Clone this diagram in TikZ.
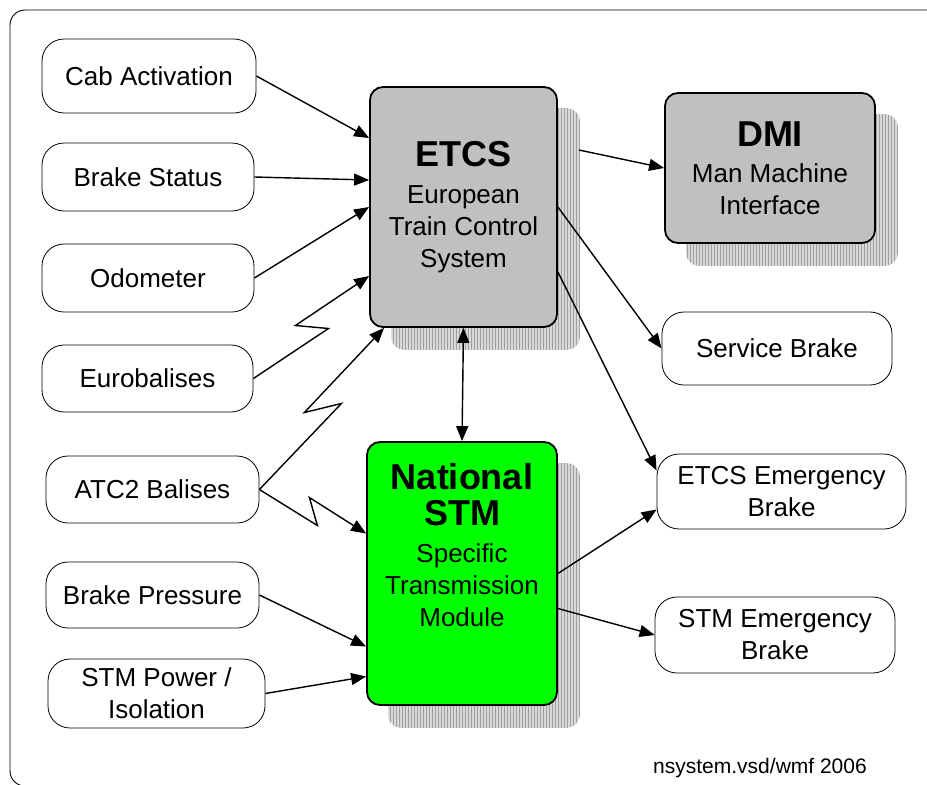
\documentclass[tikz,border=0pt]{standalone}
\usepackage{fontspec}
\setmainfont{Liberation Sans}
\usetikzlibrary{arrows.meta,patterns,backgrounds}

\definecolor{boxgray}{HTML}{C0C0C0}
\definecolor{stmgreen}{HTML}{00FF00}
\newcommand{\hdrfont}{\fontsize{36}{40}\selectfont\bfseries}

\begin{document}
\begin{tikzpicture}[x=1pt,y=-1pt,
    font=\fontsize{26}{32}\selectfont,
    inbox/.style={draw, line width=0.8pt, rounded corners=22pt, align=center, inner sep=0pt},
    unitbox/.style={draw, line width=1.8pt, rounded corners=13pt, align=center, inner sep=0pt, fill=boxgray},
    boxshadow/.style={rounded corners=13pt, preaction={fill=gray!30}, pattern=vertical lines, pattern color=gray!75},
    arr/.style={line width=1.4pt, -{Triangle[length=15pt,width=12pt]}},
    twoarr/.style={line width=1.4pt, {Triangle[length=15pt,width=12pt]}-{Triangle[length=15pt,width=12pt]}}]
    \useasboundingbox (0,0) rectangle (927,785);
    \begin{scope}
      \clip (0,0) rectangle (927,785);
      \draw[line width=0.9pt, rounded corners=15pt] (10,10) rectangle (960,786);
    \end{scope}

    % inputs
    \node[inbox, minimum width=214pt, minimum height=74pt] (cab) at (149,76) {Cab Activation};
    \node[inbox, minimum width=212pt, minimum height=68pt] (bstat) at (148,177) {Brake Status};
    \node[inbox, minimum width=212pt, minimum height=68pt] (odo) at (148,278) {Odometer};
    \node[inbox, minimum width=211pt, minimum height=67pt] (eurob) at (147.5,378.5) {Eurobalises};
    \node[inbox, minimum width=213pt, minimum height=67pt] (atc) at (152.5,489.5) {ATC2 Balises};
    \node[inbox, minimum width=213pt, minimum height=66pt] (bpress) at (152.5,595) {Brake Pressure};
    \node[inbox, minimum width=217pt, minimum height=69pt] (stmpow) at (156.5,693.5) {STM Power /\\Isolation};

    % units
    \node[unitbox, minimum width=187pt, minimum height=240pt] (etcs) at (463.5,207)
      {{\hdrfont ETCS}\\[5pt]European\\Train Control\\System};
    \node[unitbox, minimum width=210pt, minimum height=150pt] (dmi) at (770,168)
      {{\hdrfont DMI}\\[4pt]Man Machine\\Interface};
    \node[unitbox, fill=stmgreen, minimum width=190pt, minimum height=263pt] (stm) at (462,573.5) {};
    \node[align=center, inner sep=0pt] (stm-text) at (462,545)
      {{\hdrfont National}\\[4pt]{\hdrfont STM}\\[5pt]Specific\\Transmission\\Module};

    % outputs
    \node[inbox, minimum width=230pt, minimum height=73pt] (service) at (777,348.5) {Service Brake};
    \node[inbox, minimum width=249pt, minimum height=75pt] (eeb) at (781.5,491.5) {ETCS Emergency\\Brake};
    \node[inbox, minimum width=240pt, minimum height=76pt] (seb) at (775,635) {STM Emergency\\Brake};

    \node[font=\fontsize{21}{24}\selectfont] (stamp) at (760,768) {nsystem.vsd/wmf 2006};

    \begin{pgfonlayer}{background}
      \foreach \b in {etcs,dmi,stm}
        \fill[boxshadow] ([shift={(22,22)}]\b.south west) rectangle ([shift={(22,22)}]\b.north east);
    \end{pgfonlayer}

    \draw[arr] (cab.east) -- ([yshift=69pt]etcs.west);
    \draw[arr] (bstat.east) -- ([yshift=27pt]etcs.west);
    \draw[arr] (odo.east) -- (etcs.west);
    \draw[arr] (eurob.east) -- ++(75,-50) -- ++(-33,-3) -- ([yshift=-69pt]etcs.west);
    \draw[arr] (atc.east) -- ++(82,-86) -- ++(-37,9) -- ([xshift=15pt]etcs.south west);
    \draw[arr] (atc.east) -- ++(58,36) -- ++(-8,-28) -- ([yshift=40pt]stm.west);
    \draw[arr] (bpress.east) -- ([yshift=-73pt]stm.west);
    \draw[arr] (stmpow.east) -- ([yshift=-103pt]stm.west);
    \draw[twoarr] (etcs.south) -- (stm.north);
    \draw[arr] ([xshift=21pt,yshift=57pt]etcs.east) -- (dmi.west);
    \draw[arr] (etcs.east) -- (service.west);
    \draw[arr] ([yshift=-65pt]etcs.east) -- ([yshift=21pt]eeb.west);
    \draw[arr] (stm.east) -- ([yshift=-18pt]eeb.west);
    \draw[arr] ([yshift=-35pt]stm.east) -- (seb.west);
\end{tikzpicture}
\end{document}
